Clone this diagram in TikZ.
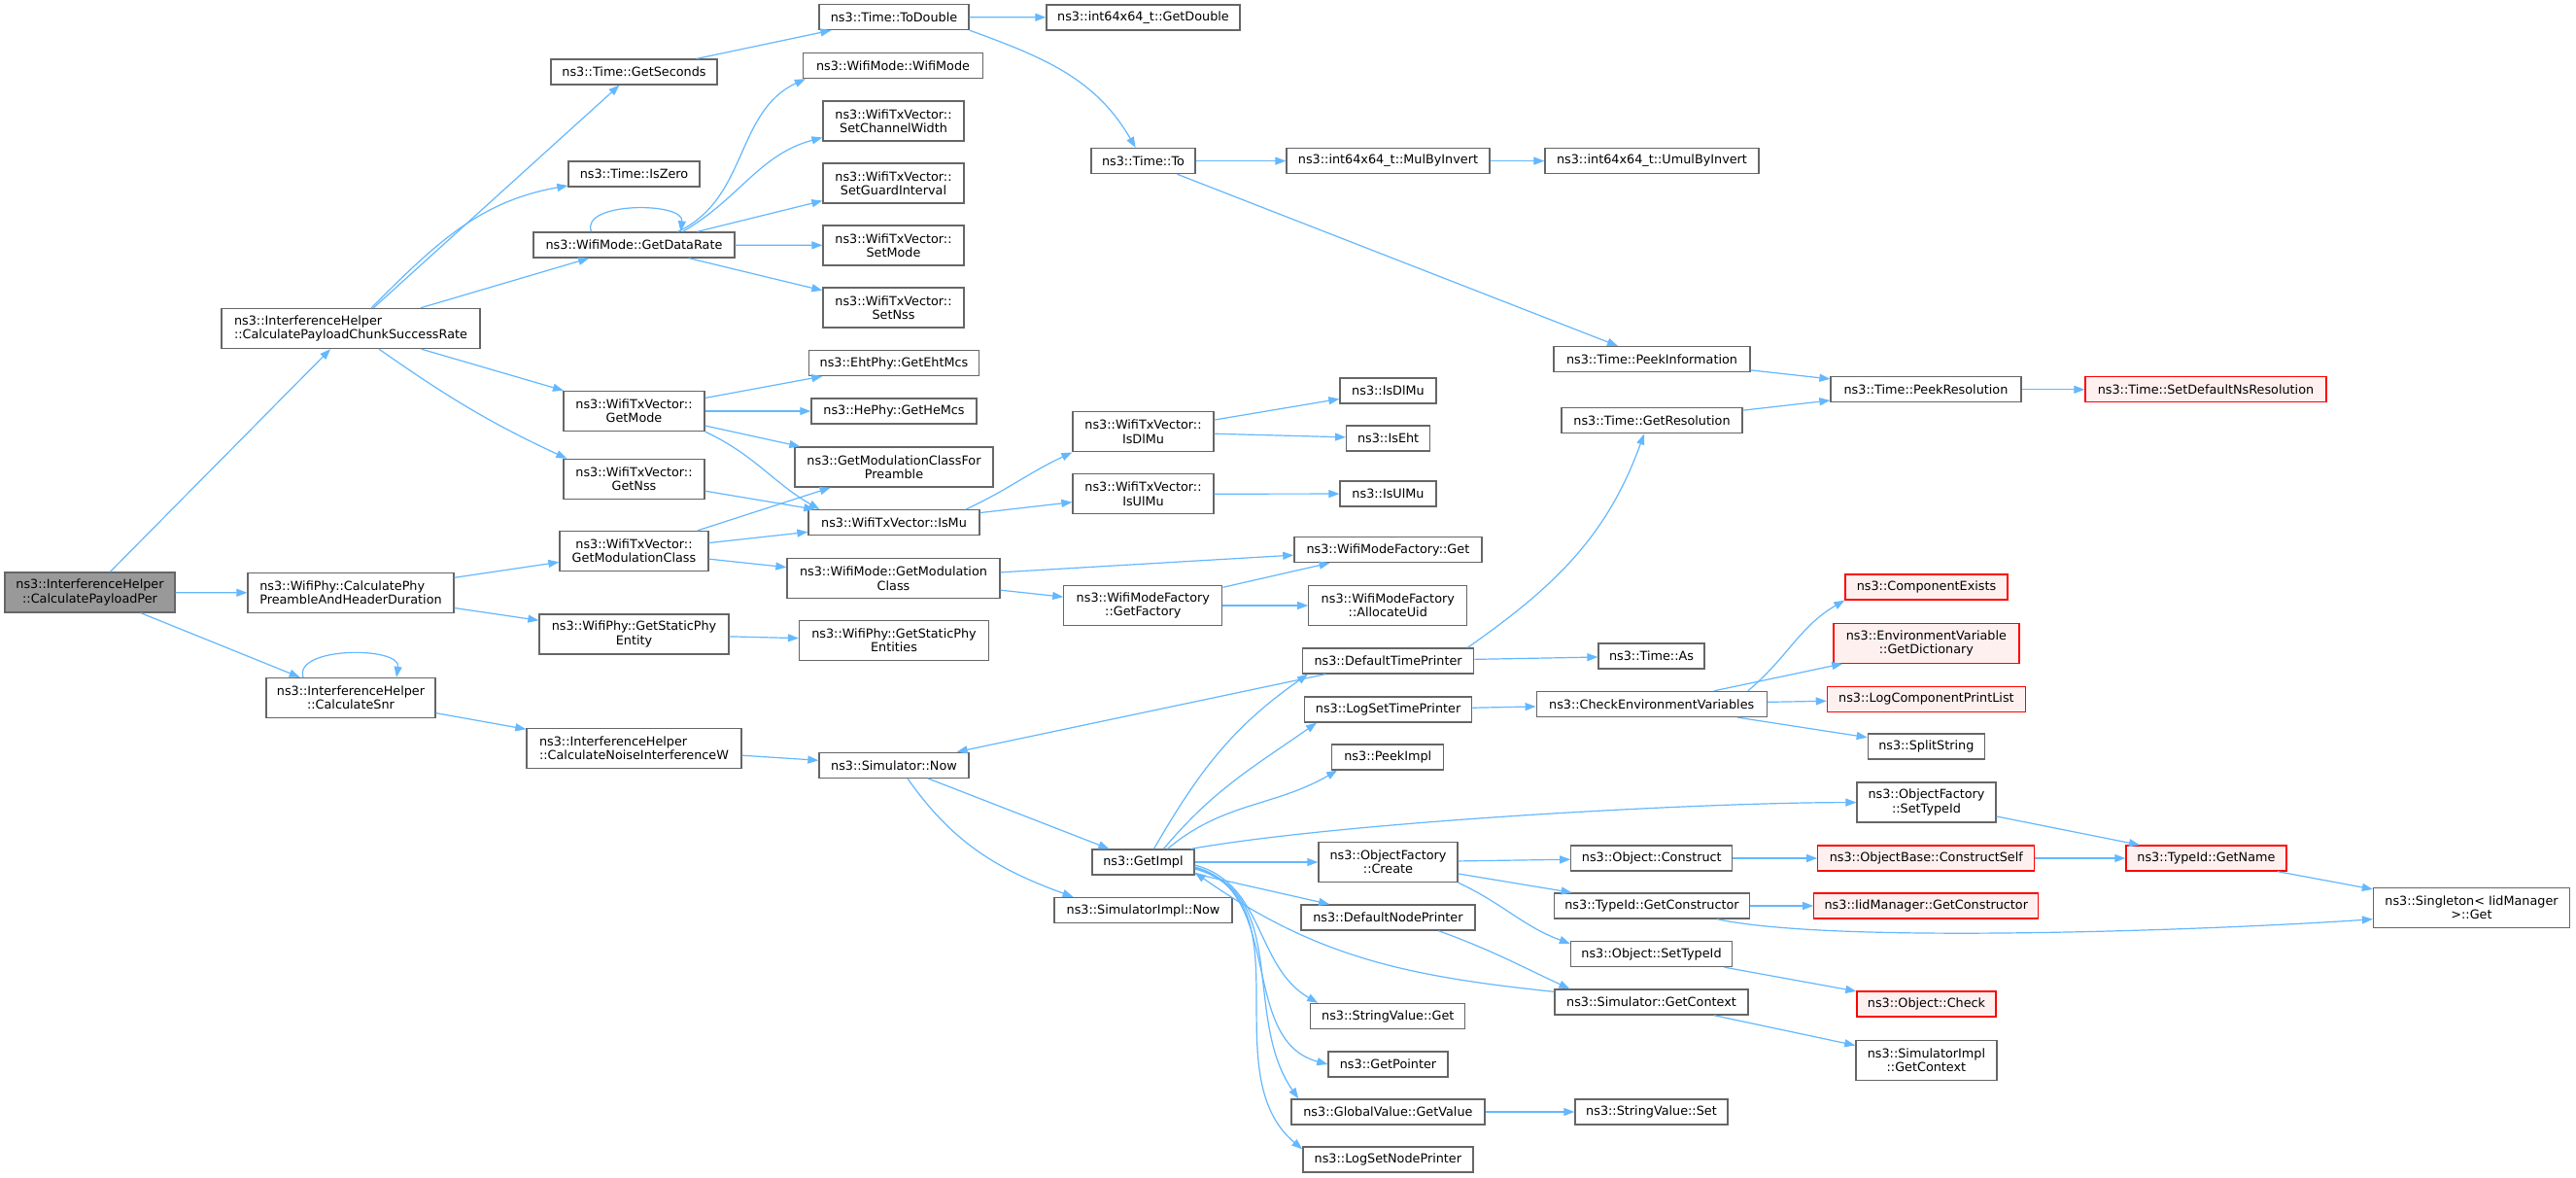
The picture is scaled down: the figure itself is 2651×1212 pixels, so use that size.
\documentclass[tikz,border=0pt]{standalone}
\usepackage{fontspec}
\usetikzlibrary{arrows.meta}
\newfontfamily\fnfont{DejaVu Sans}
\definecolor{edgeblue}{HTML}{63B8FF}
\definecolor{boxgray}{HTML}{666666}
\definecolor{rootgray}{HTML}{999999}
\definecolor{redfill}{HTML}{FFF0F0}
\tikzset{
	fn/.style={draw=boxgray, fill=white, line width=1.3pt, inner xsep=2pt, inner ysep=0pt,
		minimum height=26, align=center, font=\fnfont\fontsize{12.8}{14.3}\selectfont},
	fntwo/.style={fn, minimum height=41},
	fnleft/.style={fntwo, align=left},
	fnroot/.style={fntwo, fill=rootgray},
	fnred/.style={fn, draw=red, fill=redfill},
	fnredtwo/.style={fnred, minimum height=41},
	call/.style={draw=edgeblue, line width=1.2pt, -{Triangle[length=11pt,width=8pt]}}
}

\begin{document}
\begin{tikzpicture}[x=1pt, y=-1pt]
		%%%%% START %%%%%
		
		\fill[white] (0, 0) rectangle (2651, 1212);
		\useasboundingbox (0, 0) rectangle (2651, 1212);
		
		% column 1 and 2
		\node[fnroot, minimum width=175] (per) at (92.5, 609.5) {ns3::InterferenceHelper\\::CalculatePayloadPer};
		\node[fnleft, minimum width=266] (chunk) at (361, 338) {ns3::InterferenceHelper\\::CalculatePayloadChunkSuccessRate};
		\node[fnleft, minimum width=212] (phy) at (361, 610) {ns3::WifiPhy::CalculatePhy\\PreambleAndHeaderDuration};
		\node[fntwo, minimum width=174] (snr) at (361, 718) {ns3::InterferenceHelper\\::CalculateSnr};
		
		% column 3
		\node[fn, minimum width=171] (getsec) at (652.5, 74) {ns3::Time::GetSeconds};
		\node[fn, minimum width=135] (iszero) at (652.5, 179) {ns3::Time::IsZero};
		\node[fn, minimum width=207] (datarate) at (652.5, 252) {ns3::WifiMode::GetDataRate};
		\node[fntwo, minimum width=145] (getmode) at (652.5, 423) {ns3::WifiTxVector::\\GetMode};
		\node[fntwo, minimum width=145] (getnss) at (652.5, 493) {ns3::WifiTxVector::\\GetNss};
		\node[fntwo, minimum width=153] (modclass) at (652.5, 567) {ns3::WifiTxVector::\\GetModulationClass};
		\node[fntwo, minimum width=195] (staticphy) at (652.5, 652.5) {ns3::WifiPhy::GetStaticPhy\\Entity};
		\node[fnleft, minimum width=221] (noise) at (652.5, 770) {ns3::InterferenceHelper\\::CalculateNoiseInterferenceW};
		
		% column 4
		\node[fn, minimum width=154] (todouble) at (920, 17.5) {ns3::Time::ToDouble};
		\node[fn, minimum width=185] (wifimode) at (919, 67.5) {ns3::WifiMode::WifiMode};
		\node[fntwo, minimum width=145] (setcw) at (919.5, 124.5) {ns3::WifiTxVector::\\SetChannelWidth};
		\node[fntwo, minimum width=145] (setgi) at (919.5, 188.5) {ns3::WifiTxVector::\\SetGuardInterval};
		\node[fntwo, minimum width=145] (setmode) at (919.5, 252.5) {ns3::WifiTxVector::\\SetMode};
		\node[fntwo, minimum width=145] (setnss) at (919.5, 316.5) {ns3::WifiTxVector::\\SetNss};
		\node[fn, minimum width=175] (eht) at (920, 373.5) {ns3::EhtPhy::GetEhtMcs};
		\node[fn, minimum width=170] (hemcs) at (920, 423) {ns3::HePhy::GetHeMcs};
		\node[fntwo, minimum width=204] (preamble) at (920, 480.5) {ns3::GetModulationClassFor\\Preamble};
		\node[fn, minimum width=176] (ismu) at (920, 537.7) {ns3::WifiTxVector::IsMu};
		\node[fntwo, minimum width=219] (wmgetmc) at (919.5, 595.3) {ns3::WifiMode::GetModulation\\Class};
		\node[fntwo, minimum width=195] (staticphies) at (920, 659) {ns3::WifiPhy::GetStaticPhy\\Entities};
		\node[fn, minimum width=154] (now) at (920, 787.3) {ns3::Simulator::Now};
		
		% column 5
		\node[fn, minimum width=199] (getdouble) at (1176.5, 18) {ns3::int64x64\_t::GetDouble};
		\node[fn, minimum width=107] (timeto) at (1176.5, 165.6) {ns3::Time::To};
		\node[fntwo, minimum width=145] (isdlmu) at (1176.5, 444.3) {ns3::WifiTxVector::\\IsDlMu};
		\node[fntwo, minimum width=145] (isulmu) at (1176.5, 508.3) {ns3::WifiTxVector::\\IsUlMu};
		\node[fntwo, minimum width=163] (getfactory) at (1176.3, 623) {ns3::WifiModeFactory\\::GetFactory};
		\node[fn, minimum width=105] (getimpl) at (1176.5, 887) {ns3::GetImpl};
		\node[fn, minimum width=183] (simimplnow) at (1176.5, 936.5) {ns3::SimulatorImpl::Now};
		
		% column 6
		\node[fn, minimum width=209] (mulbyinv) at (1428.5, 165.6) {ns3::int64x64\_t::MulByInvert};
		\node[fn, minimum width=99] (nsisdlmu) at (1428.5, 402) {ns3::IsDlMu};
		\node[fn, minimum width=86] (nsiseht) at (1428.6, 451) {ns3::IsEht};
		\node[fn, minimum width=99] (nsisulmu) at (1428.5, 508) {ns3::IsUlMu};
		\node[fn, minimum width=193] (wmfget) at (1428.4, 565.5) {ns3::WifiModeFactory::Get};
		\node[fntwo, minimum width=163] (allocuid) at (1428.3, 623) {ns3::WifiModeFactory\\::AllocateUid};
		\node[fn, minimum width=176] (deftime) at (1428.6, 680) {ns3::DefaultTimePrinter};
		\node[fn, minimum width=172] (logsettime) at (1428.6, 730) {ns3::LogSetTimePrinter};
		\node[fn, minimum width=115] (peekimpl) at (1428.3, 779) {ns3::PeekImpl};
		\node[fntwo, minimum width=143] (create) at (1428.5, 887) {ns3::ObjectFactory\\::Create};
		\node[fn, minimum width=179] (defnode) at (1428.4, 944) {ns3::DefaultNodePrinter};
		\node[fn, minimum width=159] (svget) at (1428.3, 1045.5) {ns3::StringValue::Get};
		\node[fn, minimum width=123] (getptr) at (1428.5, 1095) {ns3::GetPointer};
		\node[fn, minimum width=199] (gvget) at (1428.4, 1144) {ns3::GlobalValue::GetValue};
		\node[fn, minimum width=175] (logsetnode) at (1428.4, 1193) {ns3::LogSetNodePrinter};
		
		% column 7
		\node[fn, minimum width=220] (umul) at (1700, 165.6) {ns3::int64x64\_t::UmulByInvert};
		\node[fn, minimum width=202] (peekinfo) at (1700, 369.6) {ns3::Time::PeekInformation};
		\node[fn, minimum width=186] (getres) at (1700, 432.8) {ns3::Time::GetResolution};
		\node[fn, minimum width=109] (timeas) at (1699.5, 675) {ns3::Time::As};
		\node[fn, minimum width=237] (checkenv) at (1699.7, 724.5) {ns3::CheckEnvironmentVariables};
		\node[fn, minimum width=166] (objconstruct) at (1699.8, 883) {ns3::Object::Construct};
		\node[fn, minimum width=201] (getctor) at (1700, 932) {ns3::TypeId::GetConstructor};
		\node[fn, minimum width=166] (settypeid) at (1699.5, 981.5) {ns3::Object::SetTypeId};
		\node[fn, minimum width=199] (getctx) at (1699.5, 1031) {ns3::Simulator::GetContext};
		\node[fn, minimum width=157] (svset) at (1699.5, 1144) {ns3::StringValue::Set};
		
		% column 8
		\node[fn, minimum width=196] (peekres) at (1982, 400.8) {ns3::Time::PeekResolution};
		\node[fnred, minimum width=167] (compexists) at (1982.5, 604) {ns3::ComponentExists};
		\node[fnredtwo, minimum width=191] (getdict) at (1982.4, 661.7) {ns3::EnvironmentVariable\\::GetDictionary};
		\node[fnred, minimum width=204] (logcomp) at (1982.4, 719.4) {ns3::LogComponentPrintList};
		\node[fn, minimum width=120] (splitstr) at (1982.3, 768) {ns3::SplitString};
		\node[fntwo, minimum width=143] (ofsettypeid) at (1982.5, 825.6) {ns3::ObjectFactory\\::SetTypeId};
		\node[fnred, minimum width=223] (constructself) at (1982.3, 883) {ns3::ObjectBase::ConstructSelf};
		\node[fnred, minimum width=231] (iidgetctor) at (1982.3, 932) {ns3::IidManager::GetConstructor};
		\node[fnred, minimum width=143] (objcheck) at (1982.5, 1033) {ns3::Object::Check};
		\node[fntwo, minimum width=145] (simimplctx) at (1982.4, 1091) {ns3::SimulatorImpl\\::GetContext};
		
		% column 9 and 10
		\node[fnred, minimum width=248] (setdefns) at (2270, 400.8) {ns3::Time::SetDefaultNsResolution};
		\node[fnred, minimum width=165] (getname) at (2270.4, 883) {ns3::TypeId::GetName};
		\node[fntwo, minimum width=202] (singleton) at (2543.5, 933.7) {ns3::Singleton< IidManager\\>::Get};
		
		% calls from the left part
		\draw[call] (per) -- (chunk);
		\draw[call] (per) -- (phy);
		\draw[call] (per) -- (snr);
		\draw[call] ([xshift=-49pt]snr.north) .. controls +(-10,-32) and +(5,-32) .. ([xshift=47pt]snr.north);
		\draw[call] (snr) -- (noise);
		\draw[call] (noise) -- (now);
		\draw[call] (phy) -- (modclass);
		\draw[call] (phy) -- (staticphy);
		\draw[call] (staticphy) -- (staticphies);
		
		\draw[call] (chunk) -- (getsec);
		\draw[call] (chunk) to[out=45, in=190] (iszero);
		\draw[call] (chunk) -- (datarate);
		\draw[call] (chunk) -- (getmode);
		\draw[call] ([xshift=29pt]chunk.south) to[out=-35, in=155] ([xshift=4pt]getnss.north west);
		
		\draw[call] (getsec) -- (todouble);
		\draw[call] (todouble) -- (getdouble);
		\draw[call] (todouble.south east) to[out=-20, in=120] (timeto);
		\draw[call] (timeto) -- (mulbyinv);
		\draw[call] (mulbyinv) -- (umul);
		\draw[call] (timeto) -- (peekinfo);
		\draw[call] (peekinfo) -- (peekres);
		\draw[call] (getres) -- (peekres);
		\draw[call] (peekres) -- (setdefns);
		
		% GetDataRate
		\draw[call] ([xshift=-44pt]datarate.north) .. controls +(-12,-31) and +(4,-31) .. ([xshift=48pt]datarate.north);
		\draw[call] ([xshift=45pt]datarate.north) to[out=25, in=205] ([xshift=3pt]wifimode.south west);
		\draw[call] ([xshift=50pt]datarate.north) to[out=30, in=195] ([yshift=-17pt]setcw.west);
		\draw[call] ([xshift=65pt]datarate.north) -- (setgi);
		\draw[call] (datarate) -- (setmode);
		\draw[call] (datarate) -- (setnss);
		
		% WifiTxVector
		\draw[call] (getmode) -- (eht);
		\draw[call] (getmode) -- (hemcs);
		\draw[call] ([yshift=-15pt]getmode.east) -- (preamble);
		\draw[call] (getmode.south east) to[out=-25, in=150] ([xshift=12pt]ismu.north west);
		\draw[call] (getnss) -- (ismu);
		\draw[call] (modclass) -- (preamble);
		\draw[call] (modclass) -- (ismu);
		\draw[call] (modclass) -- (wmgetmc);
		\draw[call] ([xshift=74pt]ismu.north) to[out=25, in=205] (isdlmu.south west);
		\draw[call] (ismu) -- (isulmu);
		\draw[call] (isdlmu) -- (nsisdlmu);
		\draw[call] (isdlmu) -- (nsiseht);
		\draw[call] (isulmu) -- (nsisulmu);
		\draw[call] (wmgetmc) -- (wmfget);
		\draw[call] (wmgetmc) -- (getfactory);
		\draw[call] (getfactory) -- (wmfget);
		\draw[call] (getfactory) -- (allocuid);
		
		% Simulator
		\draw[call] (now) -- (getimpl);
		\draw[call] ([xshift=14pt]now.south) to[out=-55, in=160] ([xshift=-72pt]simimplnow.north);
		\draw[call] (deftime) -- (now);
		\draw[call] (deftime) -- (timeas);
		\draw[call] ([xshift=-7pt]deftime.north east) to[out=35, in=-110] ([xshift=-8pt]getres.south);
		
		\draw[call] ([xshift=11pt]getimpl.north) to[out=60, in=215] ([xshift=6pt]deftime.south west);
		\draw[call] ([xshift=21pt]getimpl.north) to[out=50, in=215] ([xshift=13pt]logsettime.south west);
		\draw[call] ([xshift=25pt]getimpl.north) to[out=40, in=210] ([xshift=6pt]peekimpl.south west);
		\draw[call] ([xshift=-4pt]getimpl.north east) to[out=10, in=180, looseness=0.6] (ofsettypeid);
		\draw[call] (getimpl) -- (create);
		\draw[call] (getimpl) -- (defnode);
		\draw[call] ([yshift=-3pt]getimpl.east) to[out=-15, in=150] ([xshift=8pt]svget.north west);
		\draw[call] ([yshift=-5pt]getimpl.east) to[out=-15, in=165] (getptr.west);
		\draw[call] ([yshift=-6pt]getimpl.east) to[out=-15, in=125] ([xshift=8pt]gvget.north west);
		\draw[call] ([yshift=-7pt]getimpl.east) to[out=-15, in=140] ([yshift=-3pt]logsetnode.north west);
		\draw[call] ([yshift=-3pt]getctx.north west) to[out=174, in=-35] ([yshift=3pt]getimpl.south east);
		\draw[call] ([xshift=52pt]defnode.south) to[out=-20, in=155] ([xshift=16pt]getctx.north west);
		\draw[call] (gvget) -- (svset);
		
		\draw[call] (logsettime) -- (checkenv);
		\draw[call] ([xshift=99pt]checkenv.north) to[out=40, in=210] (compexists.south west);
		\draw[call] ([xshift=64pt]checkenv.north) -- ([xshift=10pt]getdict.south west);
		\draw[call] (checkenv) -- (logcomp);
		\draw[call] (checkenv) -- (splitstr);
		
		% ObjectFactory
		\draw[call] (create) -- (objconstruct);
		\draw[call] (create) -- (getctor);
		\draw[call] (create.south east) to[out=-25, in=160] ([yshift=-3pt]settypeid.north west);
		\draw[call] (objconstruct) -- (constructself);
		\draw[call] (constructself) -- (getname);
		\draw[call] (ofsettypeid) -- (getname);
		\draw[call] (getname) -- (singleton);
		\draw[call] (getctor) -- (iidgetctor);
		\draw[call] ([xshift=67pt]getctor.south) to[out=-12, in=184, looseness=0.5] ([yshift=-12pt]singleton.west);
		\draw[call] (settypeid) -- (objcheck);
		\draw[call] (getctx) -- (simimplctx);
		
		%%%%% END %%%%%
	\end{tikzpicture}
\end{document}
